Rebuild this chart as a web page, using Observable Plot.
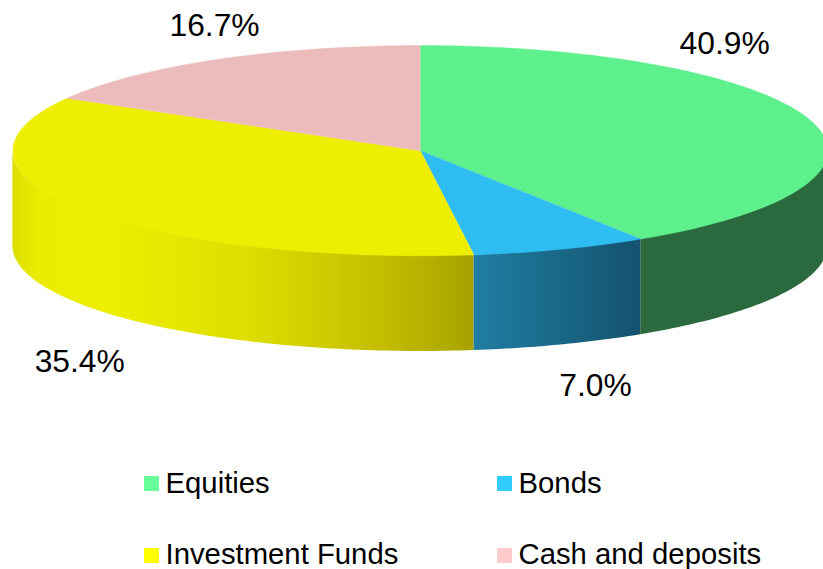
<!DOCTYPE html>
<html><head><meta charset="utf-8">
<script src="https://cdn.jsdelivr.net/npm/d3@7"></script>
<script src="https://cdn.jsdelivr.net/npm/@observablehq/plot@0.6"></script>
<style>
html,body{margin:0;padding:0;background:#fff;overflow:hidden;width:823px;height:569px}
svg{display:block}
#legend{position:relative;width:823px;height:109px;font:29.3px "Liberation Sans",Arial,sans-serif;color:#000}
.it{position:absolute;height:34px;line-height:34px;white-space:nowrap}
.sw{position:absolute;left:0;top:11px;width:15px;height:15px}
.tx{position:absolute;left:21.5px}
</style></head><body>
<div id="chart"></div><div id="legend"></div>
<script>
const categories = ["Equities","Bonds","Investment Funds","Cash and deposits"];
const shares = [40.9,7.0,35.4,16.7];
const shareLabels = ["40.9%","7.0%","35.4%","16.7%"];
const topColors = ["#5ff08e","#2fbcf0","#eeee00","#ecbcbc"];
const legendColors = ["#66ff99","#33ccff","#ffff00","#ffcccc"];
const sideFills = ["#2a6a3e","url(#sideBonds)","url(#sideFunds)","#ecbcbc"];

// layout
const W = 823, H = 460, depth = 95.5/105;
const labelX = [0.747,0.43,-0.836,-0.505], labelY = [1.019,-2.24,-2.01,1.19];
const legendPos = [[144,5,1],[497,5,1],[144,77,0],[497,77,0]];

const arcs = d3.pie().sort(null).value(d=>d)(shares);
const px = a=>Math.sin(a), py = a=>Math.cos(a);
const steps = (a0,a1)=>{const n=Math.max(2,Math.ceil((a1-a0)*60));return d3.range(n+1).map(i=>a0+(a1-a0)*i/n)};

const tops = arcs.map(s=>[{x:0,y:0},...steps(s.startAngle,s.endAngle).map(a=>({x:px(a),y:py(a)}))]);
const sides = arcs.map(s=>{
  const a0=Math.max(s.startAngle,Math.PI/2), a1=Math.min(s.endAngle,Math.PI*1.5);
  return a1>a0 ? steps(a0,a1).map(a=>({x:px(a),y1:py(a),y2:py(a)-depth})) : [];
});

const grad=(id,stops)=>{
  const g=d3.create("svg:linearGradient").attr("id",id).attr("x1",0).attr("x2",1).attr("y1",0).attr("y2",0);
  stops.forEach(([o,c])=>g.append("stop").attr("offset",o).attr("stop-color",c));
  return g.node();
};
const defs=()=>{
  const d=d3.create("svg:defs");
  d.node().append(grad("sideFunds",[[0,"#dede00"],[0.06,"#ecec00"],[0.2,"#eeee00"],[0.5,"#dfdf00"],[0.8,"#c4bd00"],[1,"#a9a200"]]));
  d.node().append(grad("sideBonds",[[0,"#207fa3"],[1,"#14526f"]]));
  return d.node();
};

const marks=[defs];
sides.forEach((s,i)=>{ if(s.length) marks.push(Plot.areaY(s,{x:"x",y1:"y1",y2:"y2",fill:sideFills[i]})); });
tops.forEach((t,i)=>marks.push(Plot.line(t,{x:"x",y:"y",fill:topColors[i],stroke:topColors[i],strokeWidth:0.4})));
marks.push(Plot.text(shareLabels,{x:(d,i)=>labelX[i],y:(d,i)=>labelY[i],text:d=>d,fontSize:31.8,fontFamily:"Liberation Sans",fill:"#000"}));

const chart=Plot.plot({width:W,height:H,margin:0,
  x:{domain:[-1,1],range:[12.4,827.2],axis:null},
  y:{domain:[1,-1],range:[45,255.3],axis:null},
  style:{background:"#fff",overflow:"hidden"},
  marks});
document.getElementById("chart").append(chart);

const leg=d3.select("#legend");
categories.forEach((c,i)=>{
  const it=leg.append("div").attr("class","it").style("left",legendPos[i][0]+"px").style("top",legendPos[i][1]+"px");
  it.append("span").attr("class","sw").style("background",legendColors[i]);
  it.append("span").attr("class","tx").style("top",legendPos[i][2]+"px").text(c);
});
</script></body></html>
